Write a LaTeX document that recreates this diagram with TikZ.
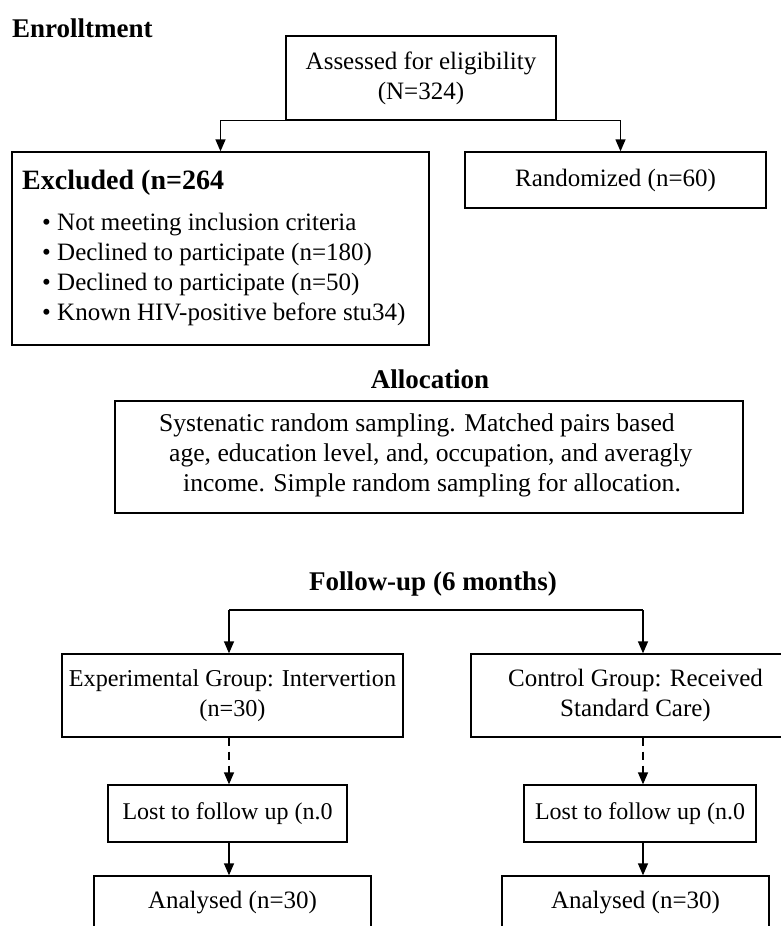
\documentclass[tikz,border=0pt]{standalone}
\usepackage{fontspec}
\setmainfont{Liberation Serif}
\usetikzlibrary{arrows.meta}
\newcommand\bodyfnt{\fontsize{25}{30}\selectfont}
\newcommand\smallbodyfnt{\fontsize{24.2}{30}\selectfont}
\newcommand\headfnt{\fontsize{27}{32}\selectfont\bfseries}
\tikzset{
  box/.style={draw, line width=1.3pt, inner sep=0pt, align=center, font=\bodyfnt},
  arr/.style={line width=1.3pt, -{Triangle[width=10pt,length=12pt]}},
  conn/.style={line width=1.3pt},
  head/.style={font=\headfnt, inner sep=0pt},
  txt/.style={font=\bodyfnt, inner sep=0pt, anchor=base west},
  dashedarr/.style={arr, dash pattern=on 8pt off 6pt}
}
\begin{document}
\begin{tikzpicture}[x=1pt,y=-1pt]
\useasboundingbox (0,0) rectangle (781,926);
\clip (0,0) rectangle (781,926);

% Enrollment
\node[head, anchor=base west] (enroll) at (12,37) {Enrolltment};
\node[box, minimum width=270pt, minimum height=84pt] (assess) at (421,78) {Assessed for eligibility\\(N=324)};
\node[box, minimum width=417pt, minimum height=193pt] (excl) at (220.5,248.5) {};
\node[box, minimum width=301pt, minimum height=56pt] (rand) at (615.5,180) {Randomized (n=60)};

\node[head, anchor=base west, font=\fontsize{28}{32}\selectfont\bfseries] (exT) at (22,189) {Excluded (n=264};
\node[txt] (ex1) at (42,230) {• Not meeting inclusion criteria};
\node[txt] (ex2) at (42,260) {• Declined to participate (n=180)};
\node[txt] (ex3) at (42,290) {• Declined to participate (n=50)};
\node[txt] (ex4) at (42,320) {• Known HIV-positive before stu34)};

\draw[arr] (assess.south west) -| (excl.north);
\draw[arr] (assess.south east) -| ([xshift=5pt]rand.north);

% Allocation
\node[head, anchor=base] (alloc) at (430,388) {Allocation};
\node[box, minimum width=628pt, minimum height=112pt] (allocbox) at (429,457) {};
\node[font=\fontsize{25.6}{30}\selectfont, inner sep=0pt, align=left, anchor=base west] (alloctext) at (159,491)
  {Systenatic random sampling. Matched pairs based\\
   \hspace*{10pt}age, education level, and, occupation, and averagly\\
   \hspace*{24pt}income. Simple random sampling for allocation.};

% Follow-up
\node[head, anchor=base] (follow) at (433,590) {Follow-up (6 months)};
\coordinate (fl) at (229,610);
\coordinate (fr) at (643,610);

\node[box, font=\smallbodyfnt, minimum width=341pt, minimum height=83pt] (exp) at (232.5,695.5) {Experimental Group: Intervertion\\(n=30)};
\node[box, minimum width=329pt, minimum height=83pt] (ctrl) at (635.5,695.5) {Control Group: Received\\Standard Care)};
\node[box, font=\fontsize{24}{30}\selectfont, minimum width=239pt, minimum height=57pt] (lostL) at (227.5,813.5) {Lost to follow up (n.0};
\node[box, font=\fontsize{24}{30}\selectfont, minimum width=232pt, minimum height=57pt] (lostR) at (640,813.5) {Lost to follow up (n.0};
\node[box, minimum width=277pt, minimum height=54pt] (anaL) at (232.5,903) {Analysed (n=30)};
\node[box, minimum width=267pt, minimum height=54pt] (anaR) at (635.5,903) {Analysed (n=30)};

\draw[conn] (fl) -- (fr);
\draw[arr] (fl) -- (fl |- exp.north);
\draw[arr] (fr) -- (fr |- ctrl.north);
\draw[dashedarr] (fl |- exp.south) -- (fl |- lostL.north);
\draw[dashedarr] (fr |- ctrl.south) -- (fr |- lostR.north);
\draw[arr] (fl |- lostL.south) -- (fl |- anaL.north);
\draw[arr] (fr |- lostR.south) -- (fr |- anaR.north);
\end{tikzpicture}
\end{document}
